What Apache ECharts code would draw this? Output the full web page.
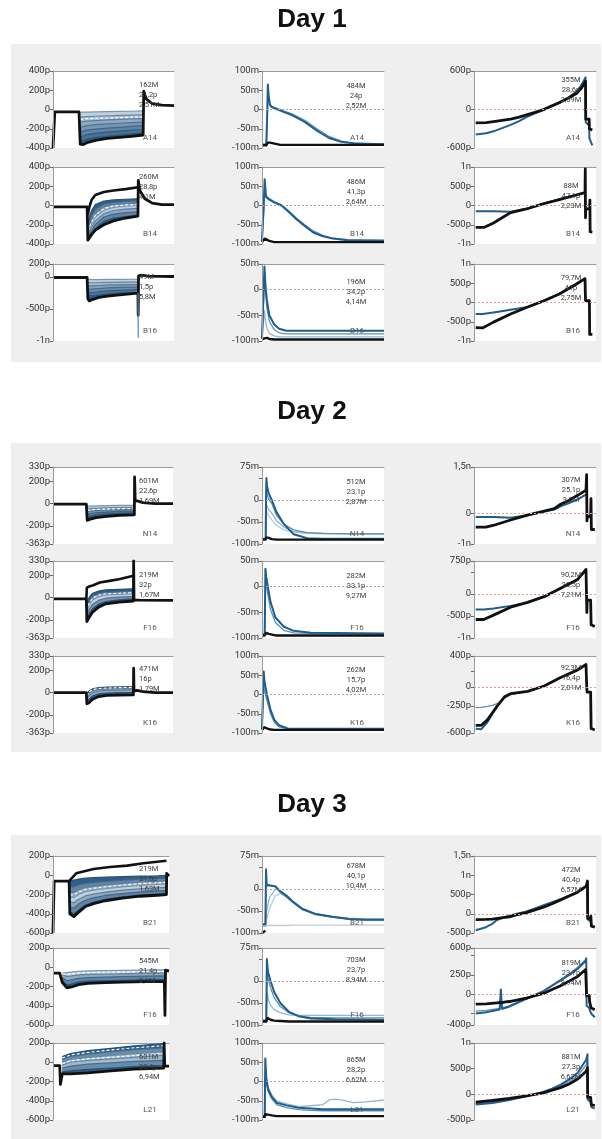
<!DOCTYPE html>
<html>
<head>
<meta charset="utf-8">
<script src="https://cdn.jsdelivr.net/npm/echarts@6/dist/echarts.min.js"></script>
<style>
  html, body { margin: 0; padding: 0; background: #ffffff; }
  #chart { width: 602px; height: 1139px; }
</style>
</head>
<body>
<div id="chart"></div>
<script>
// ---------------------------------------------------------------
// Recorded traces, per day and per cell.
//   vc : voltage-clamp current steps (pA)   t in % of sweep
//   ap : current-clamp membrane potential (mV)
//   iv : voltage-ramp current (pA)
// ---------------------------------------------------------------

// Day 1 — A14
const d1A14_vc_t = [0, 1.5, 21.5, 22.5, 25, 28, 35, 45, 55, 65, 74.5, 75, 77, 82, 90, 100];
const d1A14_vc_lo = [-400, -25, -25, -360, -365, -345, -320, -300, -290, -280, -265, 190, 110, 60, 45, 40];
const d1A14_vc_stepT = [22.5, 25, 28, 35, 45, 55, 65, 74.5];
const d1A14_vc_fam = [
  [-30, -28, -27, -25, -22, -20, -18, -15],
  [-80, -76, -73, -70, -66, -62, -58, -55],
  [-130, -125, -120, -115, -108, -103, -98, -95],
  [-180, -175, -168, -158, -150, -143, -136, -130],
  [-230, -225, -215, -203, -193, -185, -175, -168],
  [-280, -275, -262, -248, -235, -225, -215, -208],
  [-330, -325, -310, -293, -278, -265, -255, -245]
];
const d1A14_vc_dash = [[-100, -98, -95, -92, -88, -85, -80, -78]];
const d1A14_ap_t = [0, 3.5, 4.2, 4.8, 5.5, 6.5, 8, 15, 25, 35, 45, 55, 65, 75, 85, 100];
const d1A14_ap_black = [-93, -93, -90, -86, -84, -86, -90, -92, -92, -92, -92, -92, -92, -92, -92, -92];
const d1A14_ap_blue = [
  [-91, -91, -20, 65, 35, 12, 6, -3, -15, -32, -55, -74, -84, -88, -89, -90],
  [-91, -91, -40, 40, 25, 14, 8, 0, -12, -28, -50, -70, -82, -87, -89, -90]
];
const d1A14_iv_t = [1.4, 10, 16, 23, 30, 37, 43, 50, 57, 63, 70, 77, 84, 88, 91.4, 91.6, 94.4, 94.6, 97];
const d1A14_iv_black = [-210, -205, -190, -170, -150, -120, -85, -45, 0, 50, 110, 175, 250, 330, 440, -150, -150, -300, -320];
const d1A14_iv_blue = [
  [-390, -370, -340, -290, -240, -180, -120, -60, -10, 40, 100, 180, 280, 380, 500, -200, -250, -450, -560]
];

// Day 1 — B14
const d1B14_vc_t = [0, 28.2, 28.8, 30, 32, 35, 42, 50, 60, 70.2, 70.5, 72, 76, 82, 90, 100];
const d1B14_vc_lo = [-15, -15, -360, -345, -300, -255, -200, -160, -130, -110, 260, 150, 70, 25, 10, 10];
const d1B14_vc_hiT = [28.2, 28.8, 30, 32, 35, 42, 50, 60, 70.2];
const d1B14_vc_hi = [-15, -90, -20, 60, 110, 140, 155, 170, 190];
const d1B14_vc_stepT = [28.8, 30, 32, 35, 42, 50, 60, 70.2];
const d1B14_vc_fam = [
  [-180, -120, -50, 10, 45, 58, 65, 70],
  [-220, -170, -100, -40, 15, 32, 42, 50],
  [-250, -210, -150, -80, -15, 8, 18, 25],
  [-280, -245, -190, -120, -50, -20, -8, 0],
  [-300, -275, -225, -160, -85, -52, -38, -30],
  [-320, -300, -260, -200, -120, -90, -75, -65],
  [-340, -325, -290, -240, -165, -130, -115, -100]
];
const d1B14_vc_dash = [[-265, -228, -170, -100, -32, -6, 5, 12]];
const d1B14_ap_t = [0, 1, 1.6, 2.2, 3.3, 6, 10, 16, 22, 28, 35, 42, 50, 58, 70, 100];
const d1B14_ap_black = [-95, -95, -90, -86, -88, -92, -95, -95, -95, -95, -95, -95, -95, -95, -95, -95];
const d1B14_ap_blue = [
  [-93, -93, 20, 68, 22, 15, 8, 0, -17, -35, -53, -70, -80, -86, -90, -91],
  [-93, -93, -10, 45, 25, 18, 10, 2, -14, -32, -50, -66, -78, -85, -89, -91]
];
const d1B14_iv_t = [1.4, 8, 16, 23, 30, 43, 57, 70, 84, 91, 91.2, 91.4, 91.6, 94.8, 95, 95.2, 97];
const d1B14_iv_black = [-570, -570, -455, -320, -185, -90, 45, 155, 273, 336, 950, -320, -90, -90, 140, -680, -690];
const d1B14_iv_blue = [
  [-150, -150, -152, -158, -165, -85, 50, 160, 278, 340, null, null, null, null, null, null, null]
];

// Day 1 — B16
const d1B16_vc_t = [0, 28.2, 28.8, 30, 33, 38, 45, 55, 70.2, 70.4, 70.7, 73, 78, 100];
const d1B16_vc_lo = [-10, -10, -340, -375, -350, -320, -300, -280, -255, -600, 15, 25, 10, 5];
const d1B16_vc_stepT = [28.8, 30, 33, 38, 45, 55, 70.2];
const d1B16_vc_fam = [
  [-40, -45, -45, -42, -40, -40, -38],
  [-90, -95, -92, -88, -85, -82, -80],
  [-140, -148, -142, -135, -128, -124, -120],
  [-190, -200, -192, -182, -172, -165, -160],
  [-240, -255, -245, -232, -220, -210, -200],
  [-290, -310, -300, -285, -268, -255, -243]
];
const d1B16_vc_probeT = [70.3, 70.45];
const d1B16_vc_probe = [-250, -950];
const d1B16_ap_t = [0, 1.2, 2, 2.8, 4, 6, 10, 14, 20, 40, 70, 100];
const d1B16_ap_black = [-97, -97, -95, -92, -94, -96, -97, -97, -97, -97, -97, -97];
const d1B16_ap_blue = [
  [-95, -95, 45, 10, -20, -50, -68, -76, -80, -80, -80, -80],
  [-95, -95, 20, 0, -35, -62, -78, -84, -86, -86, -86, -86],
  [-95, -95, -40, -60, -75, -85, -90, -92, -92, -92, -92, -92]
];
const d1B16_iv_t = [1.4, 7, 16, 30, 43, 57, 70, 84, 91, 91.2, 91.4, 94.6, 94.8, 97];
const d1B16_iv_black = [-650, -660, -510, -300, -130, 40, 220, 480, 620, 640, 50, 50, -830, -830];
const d1B16_iv_blue = [
  [-300, -300, -260, -190, -125, 45, 225, 485, 625, null, null, null, null, null]
];

// Day 2 — N14
const d2N14_vc_t = [0, 27.8, 28.5, 31, 36, 45, 55, 67.8, 68, 68.5, 70, 75, 85, 100];
const d2N14_vc_lo = [-5, -5, -150, -140, -125, -115, -105, -100, 240, 30, 30, 10, 0, 0];
const d2N14_vc_stepT = [28.5, 31, 36, 45, 55, 67.8];
const d2N14_vc_fam = [
  [-25, -22, -20, -18, -16, -15],
  [-50, -45, -42, -38, -36, -34],
  [-75, -68, -62, -57, -53, -50],
  [-100, -90, -82, -76, -70, -67],
  [-125, -115, -102, -94, -87, -83]
];
const d2N14_vc_dash = [[-62, -57, -52, -48, -45, -42]];
const d2N14_ap_t = [0, 3, 3.3, 3.6, 4.2, 5.5, 8, 12, 18, 26, 37, 50, 75, 100];
const d2N14_ap_black = [-90, -90, -88, -85, -84, -86, -89, -90, -90, -90, -90, -90, -90, -90];
const d2N14_ap_blue = [
  [-88, -88, 0, 50, 30, 15, 0, -28, -55, -78, -87, -88, -88, -88],
  [-88, -88, -30, 20, 12, 2, -8, -35, -55, -68, -74, -76, -77, -77],
  [-88, -88, -50, -10, -15, -22, -30, -48, -62, -72, -75, -76, -77, -77],
  [-88, -88, -60, -25, -30, -35, -45, -58, -68, -73, -76, -77, -77, -77]
];
const d2N14_iv_t = [1.4, 9.6, 16.4, 30, 43.8, 57.5, 65.8, 71, 78, 85, 91.8, 92, 92.3, 92.6, 92.9, 95.6, 95.9, 96.2, 99];
const d2N14_iv_black = [-450, -455, -390, -220, -60, 70, 150, 290, 420, 580, 750, 800, 1250, -250, -110, -110, 470, -530, -530];
const d2N14_iv_blue = [
  [-120, -120, -125, -150, -70, 55, 120, 220, 330, 450, 600, null, null, null, null, null, null, null, null]
];

// Day 2 — F16
const d2F16_vc_t = [0, 27.8, 28.2, 30, 33, 38, 44, 55, 67, 67.2, 67.5, 72, 100];
const d2F16_vc_lo = [-10, -10, -215, -180, -130, -85, -55, -40, -30, 330, -20, -22, -25];
const d2F16_vc_hiT = [27.8, 28.2, 30, 33, 39, 47, 55, 61, 67];
const d2F16_vc_hi = [-10, 90, 100, 110, 136, 151, 165, 182, 197];
const d2F16_vc_stepT = [28.2, 30, 33, 38, 44, 55, 67];
const d2F16_vc_fam = [
  [-60, 0, 40, 60, 70, 75, 80],
  [-100, -40, 10, 35, 45, 50, 55],
  [-130, -70, -20, 10, 25, 30, 35],
  [-160, -110, -60, -25, -5, 5, 10],
  [-190, -150, -100, -60, -35, -20, -10]
];
const d2F16_vc_dash = [[-115, -55, -5, 22, 35, 40, 45]];
const d2F16_ap_t = [0, 2.2, 2.8, 3.4, 5.5, 7, 11, 18, 26, 40, 100];
const d2F16_ap_black = [-95, -95, -92, -90, -92, -94, -95, -95, -95, -95, -95];
const d2F16_ap_blue = [
  [-93, -93, 35, 20, -10, -30, -60, -78, -86, -90, -91],
  [-93, -93, 0, 5, -25, -45, -70, -85, -90, -91, -92]
];
const d2F16_iv_t = [1.4, 8, 16, 30, 43.8, 57.5, 71, 85, 91.8, 92.2, 92.5, 92.8, 95.6, 96, 99];
const d2F16_iv_black = [-580, -580, -480, -300, -190, -60, 130, 330, 560, 590, -420, -140, -140, -700, -740];
const d2F16_iv_blue = [
  [-350, -350, -330, -270, -200, -55, 135, 335, 540, null, null, null, null, null, null]
];

// Day 2 — K16
const d2K16_vc_t = [0, 27.8, 28.2, 30, 33, 38, 45, 55, 67, 67.2, 67.5, 70, 75, 85, 100];
const d2K16_vc_lo = [0, 0, -100, -90, -60, -35, -25, -22, -20, 220, 15, 20, 10, 0, 0];
const d2K16_vc_stepT = [28.2, 30, 33, 38, 45, 55, 67];
const d2K16_vc_fam = [
  [-20, 15, 35, 45, 50, 52, 55],
  [-40, -5, 20, 30, 35, 38, 40],
  [-60, -30, 0, 15, 20, 22, 25],
  [-80, -60, -30, -10, -5, 0, 0]
];
const d2K16_vc_dash = [[-30, 5, 28, 38, 42, 45, 48]];
const d2K16_ap_t = [0, 1, 1.4, 2, 4, 7, 10, 14, 21, 40, 100];
const d2K16_ap_black = [-92, -92, -88, -85, -88, -91, -92, -92, -92, -92, -92];
const d2K16_ap_blue = [
  [-90, -90, 60, 35, 0, -40, -65, -80, -88, -89, -89],
  [-90, -90, 20, 10, -15, -50, -72, -84, -89, -89, -89]
];
const d2K16_iv_t = [1.4, 6, 11, 15, 19, 25, 30, 44, 57.5, 71, 85, 91.8, 92, 92.4, 92.7, 95.6, 96, 99];
const d2K16_iv_black = [-500, -500, -430, -340, -250, -130, -90, -60, 10, 120, 220, 290, 310, 0, -70, -70, -540, -560];
const d2K16_iv_blue = [
  [-545, -550, -460, -350, -260, null, null, null, null, null, null, null, null, null, null, null, null, null],
  [-270, -268, -255, -240, -220, -150, -100, -62, null, null, null, null, null, null, null, null, null, null]
];

// Day 3 — B21
const d3B21_vc_t = [0, 1, 13.9, 14.5, 16, 18, 22, 28, 35, 45, 60, 75, 90, 97.8, 98, 98.5, 100];
const d3B21_vc_lo = [-600, -60, -60, -400, -420, -430, -385, -325, -295, -265, -238, -218, -208, -200, 20, 0, -10];
const d3B21_vc_hiT = [13.9, 14.5, 20, 35, 49, 64, 78, 97.8];
const d3B21_vc_hi = [-60, -40, 20, 65, 85, 100, 125, 150];
const d3B21_vc_stepT = [14.5, 16, 18, 22, 28, 35, 45, 60, 75, 90, 97.8];
const d3B21_vc_fam = [
  [-60, -60, -50, -40, -30, -25, -20, -15, -10, -5, 0],
  [-120, -130, -120, -100, -85, -75, -65, -50, -40, -33, -30],
  [-180, -190, -175, -150, -125, -115, -100, -85, -70, -62, -58],
  [-230, -245, -230, -200, -170, -155, -140, -120, -105, -95, -90],
  [-280, -300, -285, -250, -215, -195, -175, -155, -140, -130, -125],
  [-330, -350, -340, -300, -260, -235, -210, -190, -175, -165, -160],
  [-380, -400, -400, -360, -310, -280, -250, -225, -205, -195, -190]
];
const d3B21_vc_dash = [[-205, -218, -203, -175, -148, -135, -120, -102, -88, -78, -74]];
const d3B21_ap_t = [0, 2.8, 3.3, 3.8, 6, 11, 15, 20, 25, 33, 44, 57.5, 71, 85, 100];
const d3B21_ap_black = [-100, -95, null, null, null, null, null, null, null, null, null, null, null, null, null];
const d3B21_ap_blue = [
  [-80, -80, 45, 10, 8, 6, -5, -15, -28, -45, -57, -63, -68, -70, -70],
  [-80, -80, 20, 5, 10, 5, -8, -18, -30, -47, -58, -64, -68, -70, -70],
  [-85, -85, -80, -50, -20, 0, -5, -15, -28, -45, -56, -62, -66, -68, -68],
  [-85, -85, -85, -70, -45, -15, -10, -18, -30, -46, -57, -63, -67, -69, -69],
  [-84, -84, -84, -84, -83, -83, -83, -83, -82, -82, -82, -82, -82, -82, -82]
];
const d3B21_iv_t = [1.4, 9.7, 15, 18, 23.6, 29, 36, 43, 50, 57, 64, 71, 78, 85, 92, 93, 93.2, 95.6, 95.8, 96.2, 99];
const d3B21_iv_black = [-150, -148, -140, -125, -100, -80, -20, 30, 100, 170, 260, 360, 460, 560, 720, 850, -120, -120, -60, -320, -350];
const d3B21_iv_blue = [
  [-430, -350, -260, -180, -100, -50, 10, 60, 140, 220, 300, 380, 470, 570, 720, 800, -150, -200, -250, -300, -330]
];

// Day 3 — F16
const d3F16_vc_t = [0, 5.8, 8, 12, 16, 22, 30, 45, 60, 80, 96, 96.5, 97, 100];
const d3F16_vc_lo = [-60, -60, -160, -215, -205, -180, -168, -160, -155, -150, -150, -500, -30, -40];
const d3F16_vc_stepT = [8, 12, 16, 22, 30, 45, 60, 80, 96];
const d3F16_vc_fam = [
  [-60, -55, -50, -42, -38, -35, -33, -30, -28],
  [-80, -95, -90, -80, -75, -70, -68, -62, -60],
  [-110, -140, -130, -115, -108, -102, -98, -92, -90],
  [-140, -185, -175, -155, -145, -140, -135, -130, -128]
];
const d3F16_vc_dash = [[-70, -75, -70, -61, -56, -52, -50, -46, -44]];
const d3F16_ap_t = [0, 3.5, 4, 4.6, 5, 7, 10, 15, 22, 30, 40, 60, 100];
const d3F16_ap_black = [-92, -92, -88, -84, -85, -88, -90, -91, -92, -92, -92, -92, -92];
const d3F16_ap_blue = [
  [-90, -90, 50, 30, 20, 0, -25, -50, -70, -80, -85, -87, -88],
  [-90, -90, 20, 15, 5, -15, -38, -58, -72, -80, -83, -84, -84],
  [-90, -90, -40, -30, -40, -55, -65, -72, -77, -78, -78, -78, -78]
];
const d3F16_iv_t = [1.4, 10, 21, 22, 23, 26, 29, 36, 43, 50, 57, 64, 71, 78, 85, 91.5, 92, 92.3, 94.5, 94.8, 95.2, 96, 99];
const d3F16_iv_black = [-130, -125, -110, -110, -110, -100, -95, -75, -50, -20, 10, 60, 110, 170, 230, 320, 340, -20, -20, -100, -80, -180, -200];
const d3F16_iv_blue = [
  [-250, -235, -200, 60, -190, -175, -160, -110, -60, -10, 40, 110, 180, 250, 330, 430, 460, -150, -180, -200, -220, -250, -300],
  [-220, -210, -185, -180, -175, -165, -150, -100, -55, -5, 45, 120, 190, 265, 350, 450, 480, null, null, null, null, null, null]
];

// Day 3 — L21
const d3L21_vc_t = [0, 5.8, 6.4, 8, 15, 30, 50, 70, 95.5, 95.8, 96.3, 100];
const d3L21_vc_lo = [-35, -35, -230, -120, -120, -110, -90, -70, -60, 200, -40, -40];
const d3L21_vc_stepT = [8, 15, 30, 50, 70, 95.5];
const d3L21_vc_fam = [
  [60, 90, 120, 145, 170, 195],
  [30, 60, 85, 110, 130, 150],
  [0, 30, 50, 70, 90, 110],
  [-30, 0, 20, 35, 50, 70],
  [-60, -40, -20, -5, 10, 20],
  [-100, -90, -75, -60, -45, -35]
];
const d3L21_vc_dash = [[45, 75, 102, 128, 150, 172], [-15, 15, 35, 52, 70, 90]];
const d3L21_ap_t = [0, 2.2, 2.7, 3.5, 5, 8, 12, 20, 30, 40, 50, 55, 60, 65, 75, 85, 95, 100];
const d3L21_ap_black = [-92, -92, -85, -82, -86, -88, -90, -90, -90, -90, -90, -90, -90, -90, -90, -90, -90, -90];
const d3L21_ap_blue = [
  [-90, -90, 60, 10, -20, -40, -55, -62, -68, -70, -72, -72, -72, -72, -72, -72, -72, -72],
  [-90, -90, 10, -5, -25, -45, -60, -68, -73, -75, -76, -76, -76, -76, -76, -76, -76, -76],
  [-90, -90, 30, 5, -15, -35, -50, -58, -65, -63, -60, -48, -46, -48, -55, -53, -50, -48]
];
const d3L21_iv_t = [1.4, 15, 29, 43, 57, 64, 71, 78, 85, 92, 93, 93.2, 95.6, 95.8, 96.2, 99];
const d3L21_iv_black = [-150, -120, -80, -30, 30, 80, 130, 200, 300, 450, 520, -60, -60, -30, -200, -220];
const d3L21_iv_blue = [
  [-200, -170, -110, -40, 50, 110, 190, 290, 420, 680, 780, -100, -150, -200, -250, -280],
  [-180, -160, -100, -35, 40, 95, 160, 250, 360, 580, 700, null, null, null, null, null]
];

// Y-axis tick sets
const ticksVC400 = [-400, -200, 0, 200, 400];
const ticksVC1n = [-1000, -500, 0, 200];
const ticksVC363 = [-363, -200, 0, 200, 330];
const ticksVC600 = [-600, -400, -200, 0, 200];
const ticksAP100 = [-100, -50, 0, 50, 100];
const ticksAP50 = [-100, -50, 0, 50];
const ticksAP75 = [-100, -50, 0, 50, 75];
const labelsAP75 = [-100, -50, 0, 75];
const ticksIV600 = [-600, 0, 600];
const ticksIV1n = [-1000, -500, 0, 500, 1000];
const ticksIV15 = [-1000, 0, 1500];
const ticksIV750 = [-1000, -500, 0, 500, 750];
const labelsIV750 = [-1000, -500, 0, 750];
const ticksIV400 = [-600, -250, 0, 200, 400];
const labelsIV400 = [-600, -250, 0, 400];
const ticksIVB21 = [-500, 0, 500, 1000, 1500];
const ticksIVF16 = [-400, -250, 0, 250, 500, 600];
const labelsIVF16 = [-400, 0, 250, 600];
const ticksIVL21 = [-500, 0, 500, 1000];

// Day titles, cell names and fit read-outs (rows: cells top to bottom)
const dayTitles = ['Day 1', 'Day 2', 'Day 3'];
const cellNames = [['A14', 'B14', 'B16'], ['N14', 'F16', 'K16'], ['B21', 'F16', 'L21']];
const notesVC = [
  [['162M', '21,2p', '2,51M'], ['260M', '28,8p', '4,1M'], ['49M', '1,5p', '5,8M']],
  [['601M', '22,6p', '1,69M'], ['219M', '32p', '1,67M'], ['471M', '16p', '1,79M']],
  [['219M', '31,6p', '1,63M'], ['545M', '21,4p', '2,1M'], ['601M', '30,4p', '6,94M']]
];
const notesAP = [
  [['484M', '24p', '2,52M'], ['486M', '41,3p', '2,64M'], ['196M', '34,2p', '4,14M']],
  [['512M', '23,1p', '2,87M'], ['282M', '33,1p', '9,27M'], ['262M', '15,7p', '4,02M']],
  [['678M', '40,1p', '10,4M'], ['703M', '23,7p', '8,94M'], ['865M', '28,2p', '6,62M']]
];
const notesIV = [
  [['355M', '28,6p', '3,59M'], ['88M', '47,1p', '2,23M'], ['79,7M', '41p', '2,75M']],
  [['307M', '25,1p', '3,0M'], ['90,2M', '30,5p', '7,21M'], ['92,3M', '16,4p', '2,01M']],
  [['472M', '40,4p', '6,57M'], ['819M', '23,7p', '8,94M'], ['881M', '27,3p', '6,62M']]
];

// ---------------------------------------------------------------
// Layout
// ---------------------------------------------------------------
const colLeft = [53, 262, 474];
const colWidth = [[121, 122, 122], [120, 122, 122], [116, 122, 122]];
const rowTop = [[71, 167, 264], [467, 561, 656], [856, 948, 1043]];
const cellH = 77;
const dayBoxes = [[11, 44, 590, 318], [11, 443, 590, 309], [11, 835, 590, 304]];
const titleY = [20, 412, 805];
const noteDY = [
  [[14, 10, 13], [15, 15, 18], [9, 19, 14]],
  [[14, 14, 13], [15, 15, 14], [13, 14, 12]],
  [[13, 13, 14], [10, 12, 17], [14, 15, 14]]
];

const cells = [
  // day 1
  { d: 0, r: 0, c: 0, kind: 'vc', t: d1A14_vc_t, lo: d1A14_vc_lo, stepT: d1A14_vc_stepT, fam: d1A14_vc_fam, dash: d1A14_vc_dash, shade: 'down', ticks: ticksVC400 },
  { d: 0, r: 1, c: 0, kind: 'vc', t: d1B14_vc_t, lo: d1B14_vc_lo, hiT: d1B14_vc_hiT, hi: d1B14_vc_hi, stepT: d1B14_vc_stepT, fam: d1B14_vc_fam, dash: d1B14_vc_dash, shade: 'mid', ticks: ticksVC400 },
  { d: 0, r: 2, c: 0, kind: 'vc', t: d1B16_vc_t, lo: d1B16_vc_lo, stepT: d1B16_vc_stepT, fam: d1B16_vc_fam, probeT: d1B16_vc_probeT, probe: d1B16_vc_probe, shade: 'down', ticks: ticksVC1n },
  { d: 0, r: 0, c: 1, kind: 'ap', t: d1A14_ap_t, black: d1A14_ap_black, blue: d1A14_ap_blue, ticks: ticksAP100 },
  { d: 0, r: 1, c: 1, kind: 'ap', t: d1B14_ap_t, black: d1B14_ap_black, blue: d1B14_ap_blue, ticks: ticksAP100 },
  { d: 0, r: 2, c: 1, kind: 'ap', t: d1B16_ap_t, black: d1B16_ap_black, blue: d1B16_ap_blue, ticks: ticksAP50 },
  { d: 0, r: 0, c: 2, kind: 'iv', t: d1A14_iv_t, black: d1A14_iv_black, blue: d1A14_iv_blue, ticks: ticksIV600 },
  { d: 0, r: 1, c: 2, kind: 'iv', t: d1B14_iv_t, black: d1B14_iv_black, blue: d1B14_iv_blue, ticks: ticksIV1n },
  { d: 0, r: 2, c: 2, kind: 'iv', t: d1B16_iv_t, black: d1B16_iv_black, blue: d1B16_iv_blue, ticks: ticksIV1n },
  // day 2
  { d: 1, r: 0, c: 0, kind: 'vc', t: d2N14_vc_t, lo: d2N14_vc_lo, stepT: d2N14_vc_stepT, fam: d2N14_vc_fam, dash: d2N14_vc_dash, shade: 'down', ticks: ticksVC363 },
  { d: 1, r: 1, c: 0, kind: 'vc', t: d2F16_vc_t, lo: d2F16_vc_lo, hiT: d2F16_vc_hiT, hi: d2F16_vc_hi, stepT: d2F16_vc_stepT, fam: d2F16_vc_fam, dash: d2F16_vc_dash, shade: 'mid', ticks: ticksVC363 },
  { d: 1, r: 2, c: 0, kind: 'vc', t: d2K16_vc_t, lo: d2K16_vc_lo, stepT: d2K16_vc_stepT, fam: d2K16_vc_fam, dash: d2K16_vc_dash, shade: 'mid', ticks: ticksVC363 },
  { d: 1, r: 0, c: 1, kind: 'ap', t: d2N14_ap_t, black: d2N14_ap_black, blue: d2N14_ap_blue, ticks: ticksAP75, labels: labelsAP75 },
  { d: 1, r: 1, c: 1, kind: 'ap', t: d2F16_ap_t, black: d2F16_ap_black, blue: d2F16_ap_blue, ticks: ticksAP50 },
  { d: 1, r: 2, c: 1, kind: 'ap', t: d2K16_ap_t, black: d2K16_ap_black, blue: d2K16_ap_blue, ticks: ticksAP100 },
  { d: 1, r: 0, c: 2, kind: 'iv', t: d2N14_iv_t, black: d2N14_iv_black, blue: d2N14_iv_blue, ticks: ticksIV15 },
  { d: 1, r: 1, c: 2, kind: 'iv', t: d2F16_iv_t, black: d2F16_iv_black, blue: d2F16_iv_blue, ticks: ticksIV750, labels: labelsIV750 },
  { d: 1, r: 2, c: 2, kind: 'iv', t: d2K16_iv_t, black: d2K16_iv_black, blue: d2K16_iv_blue, ticks: ticksIV400, labels: labelsIV400 },
  // day 3
  { d: 2, r: 0, c: 0, kind: 'vc', t: d3B21_vc_t, lo: d3B21_vc_lo, hiT: d3B21_vc_hiT, hi: d3B21_vc_hi, stepT: d3B21_vc_stepT, fam: d3B21_vc_fam, dash: d3B21_vc_dash, shade: 'mid', ticks: ticksVC600 },
  { d: 2, r: 1, c: 0, kind: 'vc', t: d3F16_vc_t, lo: d3F16_vc_lo, stepT: d3F16_vc_stepT, fam: d3F16_vc_fam, dash: d3F16_vc_dash, shade: 'down', ticks: ticksVC600 },
  { d: 2, r: 2, c: 0, kind: 'vc', t: d3L21_vc_t, lo: d3L21_vc_lo, stepT: d3L21_vc_stepT, fam: d3L21_vc_fam, dash: d3L21_vc_dash, shade: 'mid', ticks: ticksVC600 },
  { d: 2, r: 0, c: 1, kind: 'ap', t: d3B21_ap_t, black: d3B21_ap_black, blue: d3B21_ap_blue, ticks: ticksAP75, labels: labelsAP75 },
  { d: 2, r: 1, c: 1, kind: 'ap', t: d3F16_ap_t, black: d3F16_ap_black, blue: d3F16_ap_blue, ticks: ticksAP75, labels: labelsAP75 },
  { d: 2, r: 2, c: 1, kind: 'ap', t: d3L21_ap_t, black: d3L21_ap_black, blue: d3L21_ap_blue, ticks: ticksAP100 },
  { d: 2, r: 0, c: 2, kind: 'iv', t: d3B21_iv_t, black: d3B21_iv_black, blue: d3B21_iv_blue, ticks: ticksIVB21 },
  { d: 2, r: 1, c: 2, kind: 'iv', t: d3F16_iv_t, black: d3F16_iv_black, blue: d3F16_iv_blue, ticks: ticksIVF16, labels: labelsIVF16 },
  { d: 2, r: 2, c: 2, kind: 'iv', t: d3L21_iv_t, black: d3L21_iv_black, blue: d3L21_iv_blue, ticks: ticksIVL21 }
];

// ---------------------------------------------------------------
// Helpers
// ---------------------------------------------------------------
const FONT = 'Roboto, "Liberation Sans", sans-serif';
const BLUES = ['#1f5d8c', '#5b8fb8', '#92b6d2', '#b4cbdf', '#c2cad2'];

function pairs(t, v) {
  const out = [];
  for (let i = 0; i < t.length; i++) if (v[i] !== null && v[i] !== undefined) out.push([t[i], v[i]]);
  return out;
}
function hexRgb(c) { return [1, 3, 5].map(j => parseInt(c.slice(j, j + 2), 16)); }
function mix(a, b, f) {
  const A = hexRgb(a), B = hexRgb(b);
  return '#' + A.map((x, j) => Math.round(x + (B[j] - x) * f).toString(16).padStart(2, '0')).join('');
}
// Fill shades for a trace family drawn top → bottom
function familyShades(n, shade) {
  const light = '#c9dbea', dark = '#2d5b84';
  const out = [];
  for (let k = 0; k < n; k++) {
    let f;
    if (n === 1) f = 0.5;
    else if (shade === 'down') f = k / (n - 1);
    else { const m = (n - 1) / 2; f = Math.abs(k - m) / m; }
    out.push(mix(light, dark, 0.08 + 0.9 * f));
  }
  return out;
}
function tickText(v, unit) {
  if (v === 0) return '0';
  if (unit === 'm') return v + 'm';
  if (Math.abs(v) >= 1000) return String(v / 1000).replace('.', ',') + 'n';
  return v + 'p';
}
function line(i, data, color, width, extra) {
  return Object.assign({
    type: 'line', xAxisIndex: i, yAxisIndex: i, data: data,
    showSymbol: false, symbol: 'none', silent: true, animation: false,
    lineStyle: { color: color, width: width, join: 'round' }
  }, extra || {});
}
function zeroMark(color) {
  return {
    silent: true, symbol: 'none', label: { show: false },
    lineStyle: { color: color, width: 1, type: [2, 2] },
    data: [{ yAxis: 0 }]
  };
}

// ---------------------------------------------------------------
// Build option
// ---------------------------------------------------------------
const grids = [], xAxes = [], yAxes = [], series = [], graphics = [];

dayBoxes.forEach(b => graphics.push({
  type: 'rect', z: -10, silent: true,
  shape: { x: b[0], y: b[1], width: b[2], height: b[3] },
  style: { fill: '#efefef' }
}));
dayTitles.forEach((txt, k) => graphics.push({
  type: 'text', z: 50, silent: true, x: 312, y: titleY[k],
  style: { text: txt, fill: '#111', font: 'bold 26px "Liberation Sans", Arial, sans-serif', textAlign: 'center', textVerticalAlign: 'middle' }
}));

cells.forEach((c, i) => {
  const left = colLeft[c.c], top = rowTop[c.d][c.r], width = colWidth[c.d][c.c];
  const unit = c.kind === 'ap' ? 'm' : 'p';
  grids.push({ left: left, top: top, width: width, height: cellH, show: true, backgroundColor: '#ffffff', borderWidth: 0, outerBoundsMode: 'none' });
  xAxes.push({
    gridIndex: i, type: 'value', min: 0, max: 100, position: 'top',
    axisLine: { show: true, onZero: false, lineStyle: { color: '#9c9c9c', width: 1 } },
    axisTick: { show: false }, axisLabel: { show: false }, splitLine: { show: false }
  });
  yAxes.push({
    gridIndex: i, type: 'value', min: Math.min(...c.ticks), max: Math.max(...c.ticks), z: 5,
    axisLine: { show: true, onZero: false, lineStyle: { color: '#9c9c9c', width: 1 } },
    axisTick: { show: true, customValues: c.ticks, length: 3, lineStyle: { color: '#6a6a6a' } },
    axisLabel: { customValues: c.labels || c.ticks, formatter: v => tickText(v, unit), fontSize: 9.5, color: '#333', margin: 3, fontFamily: FONT },
    splitLine: { show: false }
  });

  if (c.kind === 'vc') {
    const shades = familyShades(c.fam.length, c.shade);
    c.fam.forEach((v, k) => series.push(line(i, pairs(c.stepT, v), mix(shades[k], '#1b3a57', 0.4), 1.2,
      { areaStyle: { origin: 'start', color: shades[k], opacity: 1 } })));
    (c.dash || []).forEach(v => series.push(line(i, pairs(c.stepT, v), '#fff', 1.1,
      { lineStyle: { color: '#ffffff', width: 1.1, type: [3, 2] } })));
    series.push(line(i, pairs(c.t, c.lo), '#111', 2.8, { areaStyle: { origin: 'start', color: '#ffffff', opacity: 1 } }));
    if (c.hi) series.push(line(i, pairs(c.hiT, c.hi), '#111', 2.6));
    if (c.probe) series.push(line(i, pairs(c.probeT, c.probe), '#4f86b2', 1.2));
  } else {
    const mark = zeroMark(c.kind === 'ap' ? '#a9a9a9' : '#d7a58d');
    let first = true;
    for (let k = c.blue.length - 1; k >= 0; k--) {
      const s = line(i, pairs(c.t, c.blue[k]), BLUES[k], k === 0 ? 2 : 1.3);
      if (first) { s.markLine = mark; first = false; }
      series.push(s);
    }
    series.push(line(i, pairs(c.t, c.black), '#111', c.kind === 'iv' ? 2.8 : 2.4));
  }

  // read-outs and cell name
  const notes = (c.kind === 'vc' ? notesVC : c.kind === 'ap' ? notesAP : notesIV)[c.d][c.r];
  const nx = c.c === 0 ? left + 86 : c.c === 1 ? left + 94 : left + 97;
  const align = c.c === 0 ? 'left' : 'center';
  notes.forEach((txt, k) => graphics.push({
    type: 'text', z: 50, silent: true, x: nx, y: top + noteDY[c.d][c.c][c.r] + k * 10,
    style: { text: txt, fill: '#3c3c3c', font: '7.5px ' + FONT, textAlign: align, textVerticalAlign: 'middle' }
  }));
  const lx = c.c === 0 ? left + 97 : c.c === 1 ? left + 95 : left + 99;
  graphics.push({
    type: 'text', z: 50, silent: true, x: lx, y: top + cellH - 10,
    style: { text: cellNames[c.d][c.r], fill: '#555', font: '8px ' + FONT, textAlign: 'center', textVerticalAlign: 'middle' }
  });
});

const chart = echarts.init(document.getElementById('chart'), null, { renderer: 'canvas' });
chart.setOption({
  backgroundColor: '#ffffff',
  animation: false,
  textStyle: { fontFamily: FONT },
  grid: grids,
  xAxis: xAxes,
  yAxis: yAxes,
  series: series,
  graphic: { elements: graphics }
});
</script>
</body>
</html>
